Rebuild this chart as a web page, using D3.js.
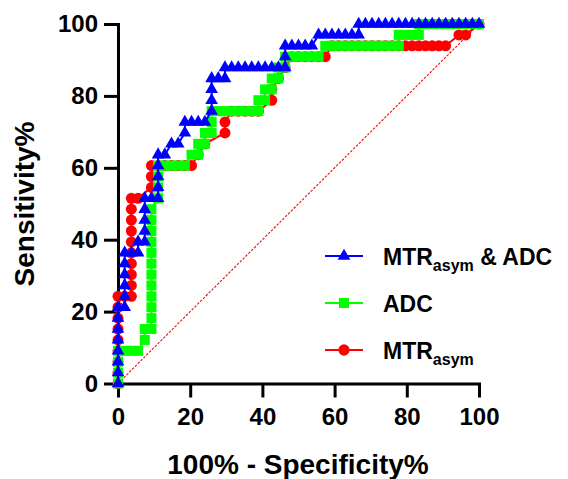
<!DOCTYPE html>
<html>
<head>
<meta charset="utf-8">
<script src="https://cdn.jsdelivr.net/npm/d3@7/dist/d3.min.js"></script>
<style>
html,body{margin:0;padding:0;background:#fff;}
svg{display:block;}
text{font-family:"Liberation Sans",Arial,Helvetica,sans-serif;font-weight:bold;fill:#000;}
</style>
</head>
<body>
<svg id="chart" width="568" height="479"></svg>
<script>
// ---- data (100% - Specificity%, Sensitivity%) ----
const seriesNames = ["MTR&ADC", "ADC", "MTR"];
const xTicks = [0, 20, 40, 60, 80, 100];
const yTicks = [0, 20, 40, 60, 80, 100];

const comboPoints = [[0,0],[0,3.03],[0,6.06],[0,9.09],[0,12.12],[0,15.15],[0,18.18],[0,21.21],[1.85,21.21],[1.85,24.24],[1.85,27.27],[1.85,30.3],[1.85,33.33],[1.85,36.36],[3.7,36.36],[5.56,36.36],[5.56,39.39],[7.41,39.39],[7.41,42.42],[7.41,45.45],[7.41,48.48],[7.41,51.52],[9.26,51.52],[11.11,51.52],[11.11,54.55],[11.11,57.58],[11.11,60.61],[11.11,63.64],[12.96,63.64],[14.81,66.67],[16.67,66.67],[18.52,69.7],[18.52,72.73],[20.37,72.73],[22.22,72.73],[24.07,72.73],[25.93,75.76],[25.93,78.79],[25.93,81.82],[25.93,84.85],[27.78,84.85],[29.63,84.85],[29.63,87.88],[31.48,87.88],[33.33,87.88],[35.19,87.88],[37.04,87.88],[38.89,87.88],[40.74,87.88],[42.59,87.88],[44.44,87.88],[46.3,87.88],[46.3,90.91],[46.3,93.94],[48.15,93.94],[50,93.94],[51.85,93.94],[53.7,93.94],[55.56,96.97],[57.41,96.97],[59.26,96.97],[61.11,96.97],[62.96,96.97],[64.81,96.97],[66.67,96.97],[66.67,100],[68.52,100],[70.37,100],[72.22,100],[74.07,100],[75.93,100],[77.78,100],[79.63,100],[81.48,100],[83.33,100],[85.19,100],[87.04,100],[88.89,100],[90.74,100],[92.59,100],[94.44,100],[96.3,100],[98.15,100],[100,100]];

const adcPoints = [[0,0],[0,3.03],[0,6.06],[0,9.09],[1.85,9.09],[3.7,9.09],[5.56,9.09],[7.41,12.12],[7.41,15.15],[9.26,15.15],[9.26,18.18],[9.26,21.21],[9.26,24.24],[9.26,27.27],[9.26,30.3],[9.26,33.33],[9.26,36.36],[9.26,39.39],[9.26,42.42],[9.26,45.45],[9.26,48.48],[11.11,51.52],[11.11,54.55],[11.11,57.58],[11.11,60.61],[12.96,60.61],[14.81,60.61],[16.67,60.61],[18.52,60.61],[20.37,63.64],[22.22,63.64],[22.22,66.67],[24.07,66.67],[24.07,69.7],[25.93,69.7],[25.93,72.73],[25.93,75.76],[27.78,75.76],[29.63,75.76],[31.48,75.76],[33.33,75.76],[35.19,75.76],[37.04,75.76],[38.89,75.76],[38.89,78.79],[40.74,78.79],[40.74,81.82],[42.59,81.82],[42.59,84.85],[44.44,84.85],[44.44,87.88],[46.3,87.88],[46.3,90.91],[48.15,90.91],[50,90.91],[51.85,90.91],[53.7,90.91],[55.56,90.91],[57.41,93.94],[59.26,93.94],[61.11,93.94],[62.96,93.94],[64.81,93.94],[66.67,93.94],[68.52,93.94],[70.37,93.94],[72.22,93.94],[74.07,93.94],[75.93,93.94],[77.78,93.94],[77.78,96.97],[79.63,96.97],[81.48,96.97],[83.33,96.97],[83.33,100],[85.19,100],[87.04,100],[88.89,100],[90.74,100],[92.59,100],[94.44,100],[96.3,100],[98.15,100],[100,100]];

const mtrPoints = [[0,0],[0,3.03],[0,6.06],[0,9.09],[0,12.12],[0,15.15],[0,18.18],[0,21.21],[0,24.24],[1.85,24.24],[3.7,24.24],[3.7,27.27],[3.7,30.3],[3.7,33.33],[3.7,36.36],[3.7,39.39],[3.7,42.42],[3.7,45.45],[3.7,48.48],[3.7,51.52],[5.56,51.52],[9.26,54.55],[9.26,57.58],[9.26,60.61],[11.11,60.61],[12.96,60.61],[14.81,60.61],[16.67,60.61],[18.52,60.61],[20.37,60.61],[22.22,63.64],[24.07,66.67],[29.63,69.7],[29.63,72.73],[31.48,75.76],[33.33,75.76],[35.19,75.76],[37.04,75.76],[38.89,75.76],[42.59,78.79],[42.59,81.82],[44.44,84.85],[46.3,87.88],[48.15,90.91],[50,90.91],[51.85,90.91],[53.7,90.91],[55.56,90.91],[57.41,90.91],[59.26,93.94],[61.11,93.94],[62.96,93.94],[64.81,93.94],[66.67,93.94],[68.52,93.94],[70.37,93.94],[72.22,93.94],[74.07,93.94],[75.93,93.94],[77.78,93.94],[79.63,93.94],[81.48,93.94],[83.33,93.94],[85.19,93.94],[87.04,93.94],[88.89,93.94],[90.74,93.94],[94.44,96.97],[96.3,96.97],[100,100]];

const referenceLine = [[0,0],[100,100]];

// ---- layout ----
const svg = d3.select("#chart");
const x = d3.scaleLinear().domain([0,100]).range([118,479]);
const y = d3.scaleLinear().domain([0,100]).range([383.5,24]);

// reference diagonal
svg.append("path")
  .datum(referenceLine)
  .attr("d", d3.line().x(d=>x(d[0])).y(d=>y(d[1])))
  .attr("fill","none").attr("stroke","#ff0000").attr("stroke-width",1.1)
  .attr("stroke-dasharray","2.5,1.5");

// axes
const yAxis = d3.axisLeft(y).tickValues(yTicks).tickSize(14).tickSizeOuter(0).tickPadding(6);
const xAxis = d3.axisBottom(x).tickValues(xTicks).tickSize(14).tickSizeOuter(0).tickPadding(10);
const gy = svg.append("g").attr("transform","translate(118,0)").call(yAxis);
const gx = svg.append("g").attr("transform","translate(0,383.5)").call(xAxis);
[gx, gy].forEach(g => {
  g.select(".domain").attr("stroke","#000").attr("stroke-width",3).attr("stroke-linecap","square");
  g.selectAll(".tick line").attr("stroke","#000").attr("stroke-width",3);
  g.selectAll(".tick text").attr("font-size",24).attr("font-weight","bold").attr("fill","#000")
    .attr("font-family","'Liberation Sans',Arial,sans-serif");
});

// axis titles
svg.append("text").attr("x",298).attr("y",474).attr("text-anchor","middle")
  .attr("font-size",28).text("100% - Specificity%");
svg.append("text").attr("transform","translate(34,204) rotate(-90)").attr("text-anchor","middle")
  .attr("font-size",28).text("Sensitivity%");

// series
const series = [
  {name:"MTR", pts:mtrPoints, color:"#ff0000", sym:d3.symbolCircle, size:95},
  {name:"ADC", pts:adcPoints, color:"#00ff00", sym:d3.symbolSquare, size:100},
  {name:"MTR&ADC", pts:comboPoints, color:"#0000ff", sym:d3.symbolTriangle, size:70}
];
const line = d3.line().x(d=>x(d[0])).y(d=>y(d[1]));
series.forEach(s => {
  const g = svg.append("g");
  g.append("path").datum(s.pts).attr("d",line).attr("fill","none")
    .attr("stroke",s.color).attr("stroke-width",2);
  g.selectAll("path.m").data(s.pts).enter().append("path").attr("class","m")
    .attr("transform",d=>`translate(${x(d[0])},${y(d[1])})`)
    .attr("d",d3.symbol().type(s.sym).size(s.size))
    .attr("fill",s.color);
});

// legend
const legendRows = [
  {main:"MTR", sub:"asym", tail:" & ADC", color:"#0000ff", sym:d3.symbolTriangle, size:70, y:256},
  {main:"ADC", sub:"", tail:"", color:"#00ff00", sym:d3.symbolSquare, size:100, y:303},
  {main:"MTR", sub:"asym", tail:"", color:"#ff0000", sym:d3.symbolCircle, size:100, y:350}
];
legendRows.forEach(r => {
  const g = svg.append("g");
  g.append("line").attr("x1",325).attr("x2",363).attr("y1",r.y).attr("y2",r.y)
    .attr("stroke",r.color).attr("stroke-width",2);
  g.append("path").attr("transform",`translate(344,${r.y})`)
    .attr("d",d3.symbol().type(r.sym).size(r.size)).attr("fill",r.color);
  const t = g.append("text").attr("x",383).attr("y",r.y+9).attr("font-size",23);
  t.append("tspan").text(r.main);
  if (r.sub) t.append("tspan").attr("font-size",16).attr("dy",6).text(r.sub);
  if (r.tail) t.append("tspan").attr("dy",-6).text(r.tail);
});
</script>
</body>
</html>
